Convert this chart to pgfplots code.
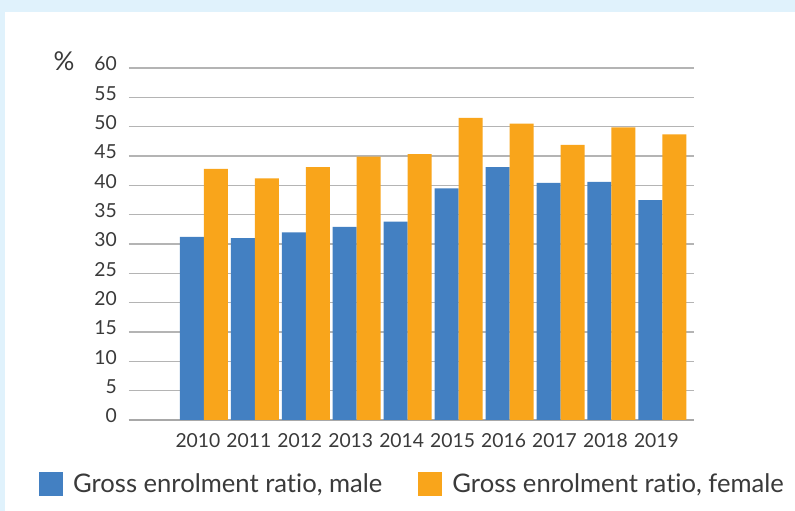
\documentclass[border=0pt]{standalone}
\usepackage{fontspec}
\setmainfont{Lato}[Ligatures={NoCommon}]
\usepackage{pgfplots}
\pgfplotsset{compat=1.18}
\definecolor{framecol}{RGB}{224,242,252}
\definecolor{malebar}{RGB}{67,128,194}
\definecolor{femalebar}{RGB}{249,165,27}
\definecolor{gridcol}{RGB}{180,180,180}
\definecolor{basecol}{RGB}{168,168,168}
\definecolor{txt}{RGB}{58,58,58}
\pgfplotsset{square legend/.style={legend image code/.code={\fill[##1] (0pt,-12pt) rectangle (24pt,12pt);}}}

\begin{document}
\begin{tikzpicture}
\path[use as bounding box] (0,0) rectangle (795pt,511pt);
\fill[framecol] (0,0) rectangle (795pt,511pt);
\fill[white] (5pt,0) rectangle (795pt,499pt);
\begin{axis}[
  at={(129pt,91pt)}, anchor=south west,
  scale only axis, width=565pt, height=352pt,
  xmin=-1.47, xmax=9.62, ymin=0, ymax=60,
  ybar=0pt, bar width=24pt,
  xtick=data,
  xticklabels={2010,2011,2012,2013,2014,2015,2016,2017,2018,2019},
  ytick={0,5,...,60},
  major tick length=0pt,
  axis line style={draw=none},
  ymajorgrids, grid style={line width=1.2pt, color=gridcol},
  extra y ticks={0}, extra y tick labels={},
  extra y tick style={grid style={line width=2.4pt, color=basecol}},
  /pgf/number format/assume math mode=true,
  ticklabel style={font=\fontsize{19.3}{23}\selectfont, text=txt},
  yticklabel style={anchor=east, inner sep=0pt, xshift=-12pt, yshift=4pt},
  xticklabel style={anchor=center, inner sep=0pt, yshift=-21pt, xshift=-6pt},
  ylabel={\fontsize{26}{30}\selectfont\%},
  every axis y label/.style={at={(rel axis cs:-0.115,1.02)}, anchor=center, text=txt},
  legend columns=2,
  legend style={at={(0.5,-0.182)}, anchor=center, draw=none, fill=none,
    inner sep=0pt, font=\fontsize{25.6}{30}\selectfont, text=txt,
    nodes={inner sep=0pt, anchor=west},
    /tikz/every odd column/.append style={column sep=10pt},
    /tikz/every even column/.append style={column sep=36pt}},
]
\addplot[fill=malebar, draw=none, square legend] coordinates {
  (0,31.2) (1,31.0) (2,32.0) (3,32.9) (4,33.8)
  (5,39.5) (6,43.1) (7,40.4) (8,40.6) (9,37.5)};
\addplot[fill=femalebar, draw=none, square legend] coordinates {
  (0,42.8) (1,41.2) (2,43.1) (3,44.9) (4,45.3)
  (5,51.5) (6,50.5) (7,46.9) (8,49.9) (9,48.7)};
\legend{{Gross enrolment ratio, male}, {Gross enrolment ratio, female}}
\end{axis}
\end{tikzpicture}
\end{document}
